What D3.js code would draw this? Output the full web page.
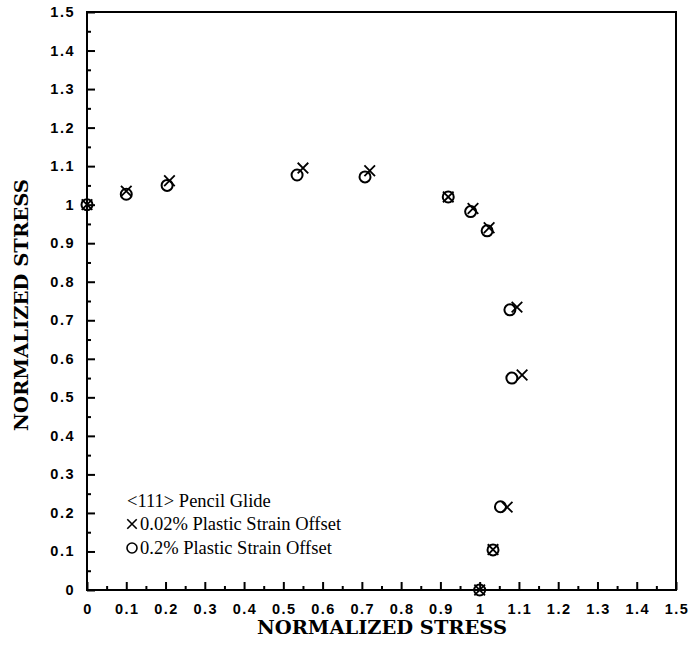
<!DOCTYPE html>
<html>
<head>
<meta charset="utf-8">
<script src="https://cdn.jsdelivr.net/npm/d3@7/dist/d3.min.js"></script>
<style>
  body { margin: 0; background: #fff; }
  svg { display: block; }
</style>
</head>
<body>
<div id="chart"></div>
<script>
// 0.02% plastic strain offset (X markers)
const xCross = [0, 0.10, 0.21, 0.55, 0.72, 0.92, 0.983, 1.024, 1.095, 1.108, 1.07, 1.034, 1.0];
const yCross = [1, 1.035, 1.062, 1.095, 1.088, 1.02, 0.99, 0.94, 0.734, 0.558, 0.215, 0.105, 0];
// 0.2% plastic strain offset (O markers)
const xCircle = [0, 0.10, 0.204, 0.535, 0.708, 0.92, 0.977, 1.019, 1.077, 1.082, 1.053, 1.034, 1.0];
const yCircle = [1, 1.027, 1.05, 1.077, 1.072, 1.02, 0.982, 0.932, 0.727, 0.55, 0.216, 0.104, 0];
const tickValues = [0, 0.1, 0.2, 0.3, 0.4, 0.5, 0.6, 0.7, 0.8, 0.9, 1, 1.1, 1.2, 1.3, 1.4, 1.5];
const legendLines = ["<111> Pencil Glide", "0.02% Plastic Strain Offset", "0.2% Plastic Strain Offset"];
const axisTitle = "NORMALIZED STRESS";

const SIZE = { width: 691, height: 647 };
const MARGIN = { left: 87, right: 15, top: 12, bottom: 57 };

const svg = d3.select("div#chart").append("svg")
    .attr("width", SIZE.width)
    .attr("height", SIZE.height);

const xScale = d3.scaleLinear().domain([0, 1.5]).range([MARGIN.left, SIZE.width - MARGIN.right]);
const yScale = d3.scaleLinear().domain([0, 1.5]).range([SIZE.height - MARGIN.bottom, MARGIN.top]);
const minor = d3.range(0.05, 1.5, 0.1);

const fmt = d => d === 0 ? "0" : d === 1 ? "1" : d3.format(".1f")(d);

// frame
svg.append("rect")
    .attr("x", xScale(0)).attr("y", yScale(1.5))
    .attr("width", xScale(1.5) - xScale(0))
    .attr("height", yScale(0) - yScale(1.5))
    .attr("fill", "none").attr("stroke", "#000").attr("stroke-width", 2);

// left axis, ticks inward
const yAxis = svg.append("g").attr("transform", `translate(${xScale(0)},0)`)
    .call(d3.axisRight(yScale).tickValues(tickValues).tickSize(8).tickFormat(""));
const yMinor = svg.append("g").attr("transform", `translate(${xScale(0)},0)`)
    .call(d3.axisRight(yScale).tickValues(minor).tickSize(4).tickFormat(""));
// bottom axis, ticks inward
const xAxis = svg.append("g").attr("transform", `translate(0,${yScale(0)})`)
    .call(d3.axisTop(xScale).tickValues(tickValues).tickSize(8).tickFormat(""));
const xMinor = svg.append("g").attr("transform", `translate(0,${yScale(0)})`)
    .call(d3.axisTop(xScale).tickValues(minor).tickSize(4).tickFormat(""));
[yAxis, yMinor, xAxis, xMinor].forEach(g => {
  g.select(".domain").remove();
  g.selectAll("line").attr("stroke", "#000").attr("stroke-width", 2);
});

const tickFont = "'Liberation Sans', Arial, sans-serif";
svg.append("g").selectAll("text").data(tickValues).join("text")
    .attr("x", 75).attr("y", d => yScale(d) + 5)
    .attr("text-anchor", "end")
    .attr("font-family", tickFont).attr("font-weight", "bold")
    .attr("font-size", 14.5).attr("letter-spacing", 1.5)
    .text(fmt);
svg.append("g").selectAll("text").data(tickValues).join("text")
    .attr("x", d => xScale(d) + 1).attr("y", 614)
    .attr("text-anchor", "middle")
    .attr("font-family", tickFont).attr("font-weight", "bold")
    .attr("font-size", 14.5).attr("letter-spacing", 1.5)
    .text(fmt);

// axis titles
const titleFont = "'DejaVu Serif', 'Liberation Serif', serif";
svg.append("text")
    .attr("x", 382).attr("y", 634)
    .attr("text-anchor", "middle")
    .attr("font-family", titleFont).attr("font-weight", "bold")
    .attr("font-size", 19)
    .attr("textLength", 250).attr("lengthAdjust", "spacingAndGlyphs")
    .text(axisTitle);
svg.append("text")
    .attr("transform", "translate(28,305) rotate(-90)")
    .attr("text-anchor", "middle")
    .attr("font-family", titleFont).attr("font-weight", "bold")
    .attr("font-size", 19)
    .attr("textLength", 252).attr("lengthAdjust", "spacingAndGlyphs")
    .text(axisTitle);

// markers
const crossData = xCross.map((x, i) => ({ x, y: yCross[i] }));
const circleData = xCircle.map((x, i) => ({ x, y: yCircle[i] }));
const cross = d3.symbol().type(d3.symbolX).size(75);

svg.append("g").selectAll("circle").data(circleData).join("circle")
    .attr("cx", d => xScale(d.x)).attr("cy", d => yScale(d.y))
    .attr("r", 5.5)
    .attr("fill", "none").attr("stroke", "#000").attr("stroke-width", 2);
svg.append("g").selectAll("path").data(crossData).join("path")
    .attr("transform", d => `translate(${xScale(d.x)},${yScale(d.y)})`)
    .attr("d", cross)
    .attr("fill", "none").attr("stroke", "#000").attr("stroke-width", 1.8);

// legend
const legendFont = "'Liberation Serif', 'Times New Roman', serif";
const leg = svg.append("g").attr("font-family", legendFont).attr("font-size", 18.5);
leg.append("text").attr("x", 127).attr("y", 507).text(legendLines[0]);
leg.append("path")
    .attr("transform", "translate(132,524)")
    .attr("d", d3.symbol().type(d3.symbolX).size(60))
    .attr("fill", "none").attr("stroke", "#000").attr("stroke-width", 1.6);
leg.append("text").attr("x", 140).attr("y", 530).text(legendLines[1]);
leg.append("circle").attr("cx", 132).attr("cy", 548).attr("r", 5)
    .attr("fill", "none").attr("stroke", "#000").attr("stroke-width", 1.6);
leg.append("text").attr("x", 140).attr("y", 554).text(legendLines[2]);
</script>
</body>
</html>
